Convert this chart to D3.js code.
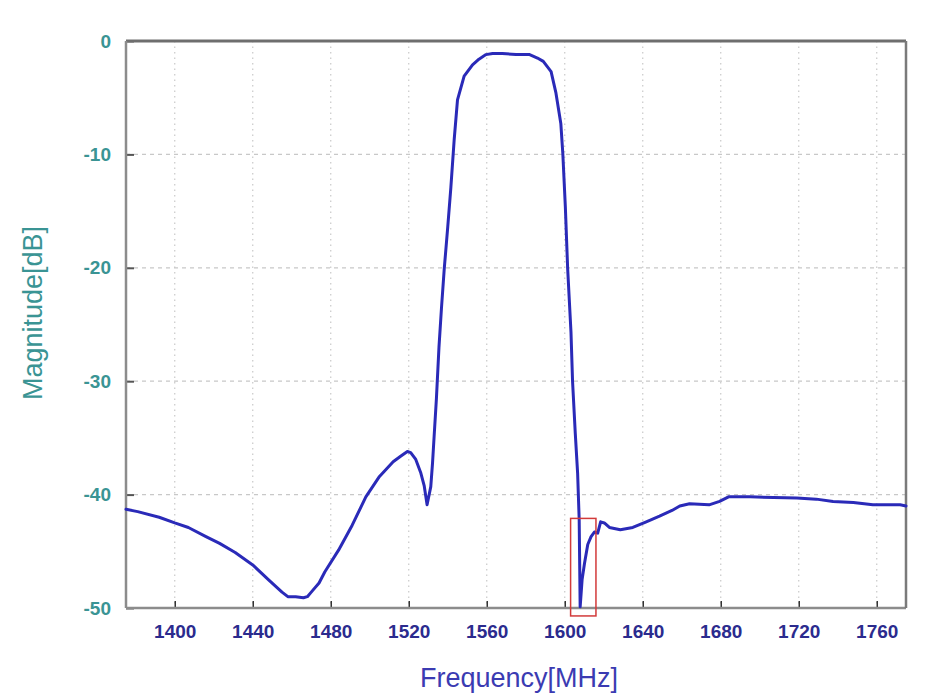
<!DOCTYPE html>
<html>
<head>
<meta charset="utf-8">
<script src="https://cdn.jsdelivr.net/npm/d3@7"></script>
<style>
  html, body { margin: 0; padding: 0; background: #ffffff; }
  svg { display: block; }
</style>
</head>
<body>
<svg id="chart" width="930" height="694"></svg>
<script>
// ---- Data ----
const freqMHz = [1375, 1381, 1392, 1400, 1407, 1416, 1423, 1431, 1440, 1448, 1455, 1458, 1462, 1466, 1468, 1470,
  1474, 1477, 1484, 1491, 1498, 1505, 1512, 1516, 1519.3, 1521, 1523.6, 1526.2, 1527.9, 1529.4, 1531.3, 1532.2,
  1533, 1534.2, 1535.5, 1536.8, 1538.2, 1540, 1541.6, 1543.3, 1545, 1548.4, 1552.7, 1556, 1559.6, 1563, 1568,
  1575, 1582, 1586, 1589, 1593, 1595.5, 1598, 1599, 1600.3, 1601.5, 1603.2, 1604, 1605.4, 1606.6, 1607.4, 1607.9,
  1608.9, 1610.1, 1611.8, 1613.5, 1615.2, 1616.9, 1618.4, 1620.3, 1622.9, 1628.5, 1634.9, 1641.8, 1648.6, 1655,
  1659, 1664, 1674, 1679.4, 1684, 1695, 1719, 1729, 1737.6, 1748, 1758, 1772, 1775];
const magnitudeDb = [-41.3, -41.5, -42.0, -42.5, -42.9, -43.7, -44.3, -45.1, -46.2, -47.5, -48.6, -49.0, -49.0, -49.1, -49.0, -48.6,
  -47.8, -46.8, -44.9, -42.7, -40.2, -38.4, -37.1, -36.6, -36.2, -36.3, -36.9, -38.1, -39.2, -40.9, -39.3, -37.2,
  -34.9, -31.5, -27.0, -23.5, -20.1, -16.4, -12.9, -8.7, -5.2, -3.1, -2.1, -1.6, -1.2, -1.1, -1.1,
  -1.2, -1.2, -1.5, -1.8, -2.7, -4.6, -7.3, -9.9, -14.6, -20.1, -25.7, -30.0, -34.6, -38.1, -42.2, -49.9,
  -47.5, -46.1, -44.4, -43.7, -43.3, -43.4, -42.4, -42.5, -42.9, -43.1, -42.9, -42.4, -41.9, -41.4,
  -41.0, -40.8, -40.9, -40.6, -40.2, -40.2, -40.3, -40.4, -40.6, -40.7, -40.9, -40.9, -41.0];
const xTicks = [1400, 1440, 1480, 1520, 1560, 1600, 1640, 1680, 1720, 1760];
const yTicks = [0, -10, -20, -30, -40, -50];
const xDomain = [1375, 1775];
const yDomain = [-50, 0];
const highlightFreq = [1603, 1616];     // red box (frequency span)
const highlightDb = [-42.1, -50.7];     // red box (magnitude span)
const xTitle = "Frequency[MHz]";
const yTitle = "Magnitude[dB]";

// ---- Layout ----
const svg = d3.select("#chart");
const L = 126, R = 906, T = 41, B = 608;
const x = d3.scaleLinear().domain(xDomain).range([L, R]);
const y = d3.scaleLinear().domain(yDomain).range([B, T]);
const FONT = "Arial, 'Liberation Sans', sans-serif";

// grid
const grid = svg.append("g");
grid.selectAll("line.vg").data(xTicks).join("line")
  .attr("x1", d => x(d)).attr("x2", d => x(d)).attr("y1", T).attr("y2", B)
  .attr("stroke", "#c8c8c8").attr("stroke-width", 1.2).attr("stroke-dasharray", "1.5,4");
grid.selectAll("line.hg").data(yTicks.filter(d => d !== 0 && d !== -50)).join("line")
  .attr("x1", L).attr("x2", R).attr("y1", d => y(d)).attr("y2", d => y(d))
  .attr("stroke", "#c8c8c8").attr("stroke-width", 1.2).attr("stroke-dasharray", "4,4");

// axes with D3 axis generators
const xAxis = d3.axisBottom(x).tickValues(xTicks).tickSize(-7).tickPadding(17).tickFormat(d3.format("d"));
const gx = svg.append("g").attr("transform", `translate(0,${B})`).call(xAxis);
gx.select(".domain").remove();
gx.selectAll(".tick line").attr("stroke", "#333").attr("stroke-width", 1.5);
gx.selectAll(".tick text").attr("fill", "#2b2b8e").attr("font-family", FONT)
  .attr("font-size", 19).attr("font-weight", "bold");

const yAxis = d3.axisLeft(y).tickValues(yTicks).tickSize(-8).tickPadding(15).tickFormat(d => d === 0 ? "0" : "-" + Math.abs(d));
const gy = svg.append("g").attr("transform", `translate(${L},0)`).call(yAxis);
gy.select(".domain").remove();
gy.selectAll(".tick line").attr("stroke", "#555").attr("stroke-width", 2);
gy.selectAll(".tick text").attr("fill", "#3a9494").attr("font-family", FONT)
  .attr("font-size", 19).attr("font-weight", "bold");

// frame
svg.append("line").attr("x1", L).attr("x2", R).attr("y1", T).attr("y2", T).attr("stroke", "#6e6e6e").attr("stroke-width", 3);
svg.append("line").attr("x1", L).attr("x2", R).attr("y1", B).attr("y2", B).attr("stroke", "#8c8c8c").attr("stroke-width", 2.5);
svg.append("line").attr("x1", L).attr("x2", L).attr("y1", T).attr("y2", B).attr("stroke", "#8c8c8c").attr("stroke-width", 2.5);
svg.append("line").attr("x1", R).attr("x2", R).attr("y1", T).attr("y2", B).attr("stroke", "#7a7a7a").attr("stroke-width", 2.5);

// curve
const pts = freqMHz.map((f, i) => [f, magnitudeDb[i]]);
const line = d3.line().x(d => x(d[0])).y(d => y(d[1]));
svg.append("path").datum(pts).attr("d", line)
  .attr("fill", "none").attr("stroke", "#2a2ab8").attr("stroke-width", 3)
  .attr("stroke-linejoin", "round").attr("stroke-linecap", "round");

// red highlight box
svg.append("rect")
  .attr("x", x(highlightFreq[0])).attr("y", y(highlightDb[0]))
  .attr("width", x(highlightFreq[1]) - x(highlightFreq[0]))
  .attr("height", y(highlightDb[1]) - y(highlightDb[0]))
  .attr("fill", "none").attr("stroke", "#d23a3a").attr("stroke-width", 1.5);

// titles
svg.append("text").attr("x", 519).attr("y", 687).attr("text-anchor", "middle")
  .attr("fill", "#3b3bb2").attr("font-family", FONT).attr("font-size", 27)
  .text(xTitle);
svg.append("text").attr("transform", `translate(42,313) rotate(-90)`).attr("text-anchor", "middle")
  .attr("fill", "#3a9494").attr("font-family", FONT).attr("font-size", 27)
  .text(yTitle);
</script>
</body>
</html>
